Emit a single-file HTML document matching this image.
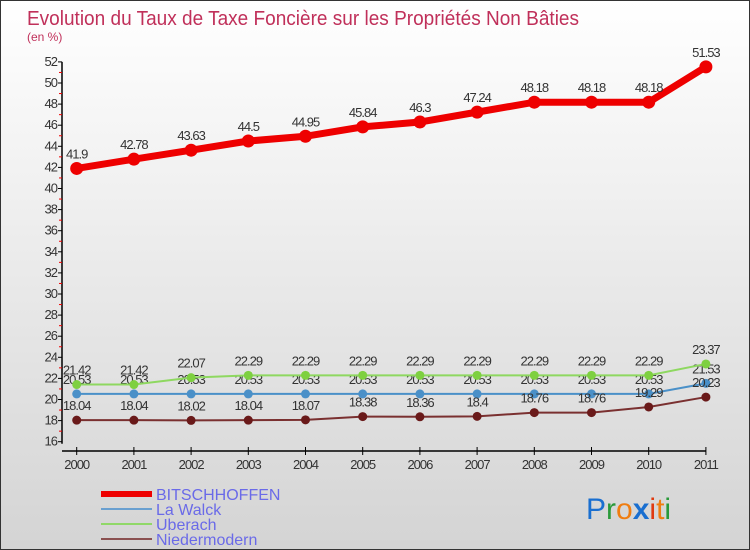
<!DOCTYPE html>
<html><head><meta charset="utf-8"><style>
body{margin:0;}
#c{width:750px;height:550px;position:relative;overflow:hidden;background:linear-gradient(#ffffff,#d4d4d4);font-family:"Liberation Sans",sans-serif;box-sizing:border-box;border:1px solid #333;}
svg{position:absolute;left:0;top:0}
</style></head><body>
<div id="c">
<svg id="s" width="750" height="550">
<text x="26" y="24" font-size="20" fill="#c0305a" textLength="552" lengthAdjust="spacingAndGlyphs">Evolution du Taux de Taxe Foncière sur les Propriétés Non Bâties</text>
<text x="26" y="40" font-size="12" fill="#c0305a">(en %)</text>
<g id="axes"></g><g id="series"></g><g id="legend"></g>
<text x="585" y="518" font-size="30"><tspan fill="#1a6fd0">P</tspan><tspan fill="#2a9a3a">r</tspan><tspan fill="#f07d10">o</tspan><tspan fill="#1a6fd0" font-weight="bold">x</tspan><tspan fill="#e03a10">i</tspan><tspan fill="#f07d10">t</tspan><tspan fill="#2a9a3a">i</tspan></text>
</svg></div>
<script>
const years=["2000","2001","2002","2003","2004","2005","2006","2007","2008","2009","2010","2011"];
const bitsch=[41.9,42.78,43.63,44.5,44.95,45.84,46.3,47.24,48.18,48.18,48.18,51.53];
const walck=[20.53,20.53,20.53,20.53,20.53,20.53,20.53,20.53,20.53,20.53,20.53,21.53];
const uberach=[21.42,21.42,22.07,22.29,22.29,22.29,22.29,22.29,22.29,22.29,22.29,23.37];
const nieder=[18.04,18.04,18.02,18.04,18.07,18.38,18.36,18.4,18.76,18.76,19.29,20.23];
const yTicks=[16,18,20,22,24,26,28,30,32,34,36,38,40,42,44,46,48,50,52];
const NS="http://www.w3.org/2000/svg";
const x=i=>75.7+i*57.2;
const y=v=>440.7-(v-16)*10.55;
function mk(tag,attrs,parent,text){const e=document.createElementNS(NS,tag);for(const k in attrs)e.setAttribute(k,attrs[k]);if(text!==undefined)e.textContent=text;parent.appendChild(e);return e;}
const ax=document.getElementById('axes');
let l=mk('line',{x1:61,y1:y(52),x2:61,y2:y(16)+2,stroke:'#000','stroke-width':1.5},ax);


l=mk('line',{x1:61,y1:450,x2:x(11),y2:450,stroke:'#000','stroke-width':1.5},ax);


yTicks.forEach((v,i)=>{
 mk('line',{x1:57,y1:y(v),x2:61,y2:y(v),stroke:'#000'},ax);
 if(i<yTicks.length-1)mk('line',{x1:58,y1:y(v+1),x2:61,y2:y(v+1),stroke:'#e00'},ax);
 const t=mk('text',{x:56,y:y(v)+4,'font-size':13,'text-anchor':'end',fill:'#333','letter-spacing':'-1'},ax,String(v));
 
 
});
years.forEach((yr,i)=>{
 mk('line',{x1:x(i),y1:446,x2:x(i),y2:454,stroke:'#000'},ax);
 const t=mk('text',{x:x(i),y:468,'font-size':13,'text-anchor':'middle',fill:'#333','letter-spacing':'-1'},ax,yr);
 
 
});
const sg=document.getElementById('series');
const S=[
 {d:walck,c:'#4a90c8',w:2,r:4.5,id:'la-walck'},
 {d:nieder,c:'#7a3030',w:2,r:4.5,id:'niedermodern',pc:'#6a1a1a'},
 {d:uberach,c:'#8ed860',w:2,r:4.5,id:'uberach',pc:'#7ed040'},
 {d:bitsch,c:'#ee0000',w:7,r:6.5,id:'bitschhoffen'}
];
S.forEach(s=>{
 const p=mk('polyline',{points:s.d.map((v,i)=>x(i)+','+y(v)).join(' '),fill:'none',stroke:s.c,'stroke-width':s.w},sg);
 
 
 s.d.forEach((v,i)=>{
  const c=mk('circle',{cx:x(i),cy:y(v),r:s.r,fill:s.pc||s.c},sg);
  
  
  const t=mk('text',{x:x(i),y:y(v)-10,'font-size':13,'text-anchor':'middle',fill:'#333','letter-spacing':'-1'},sg,String(v));
  
  
 });
});
const lg=document.getElementById('legend');
[['BITSCHHOFFEN','#ee0000',6,493],['La Walck','#6aa0d0',2,508],['Uberach','#90d868',2,523],['Niedermodern','#8a5050',2,538]].forEach(e=>{
 const g=mk('g',{},lg);
 
 
 mk('line',{x1:100,y1:e[3],x2:151,y2:e[3],stroke:e[1],'stroke-width':e[2]},g);
 mk('text',{x:155,y:e[3]+6,'font-size':16,fill:'#6a6ae8'},g,e[0]);
});
</script>
</body></html>
